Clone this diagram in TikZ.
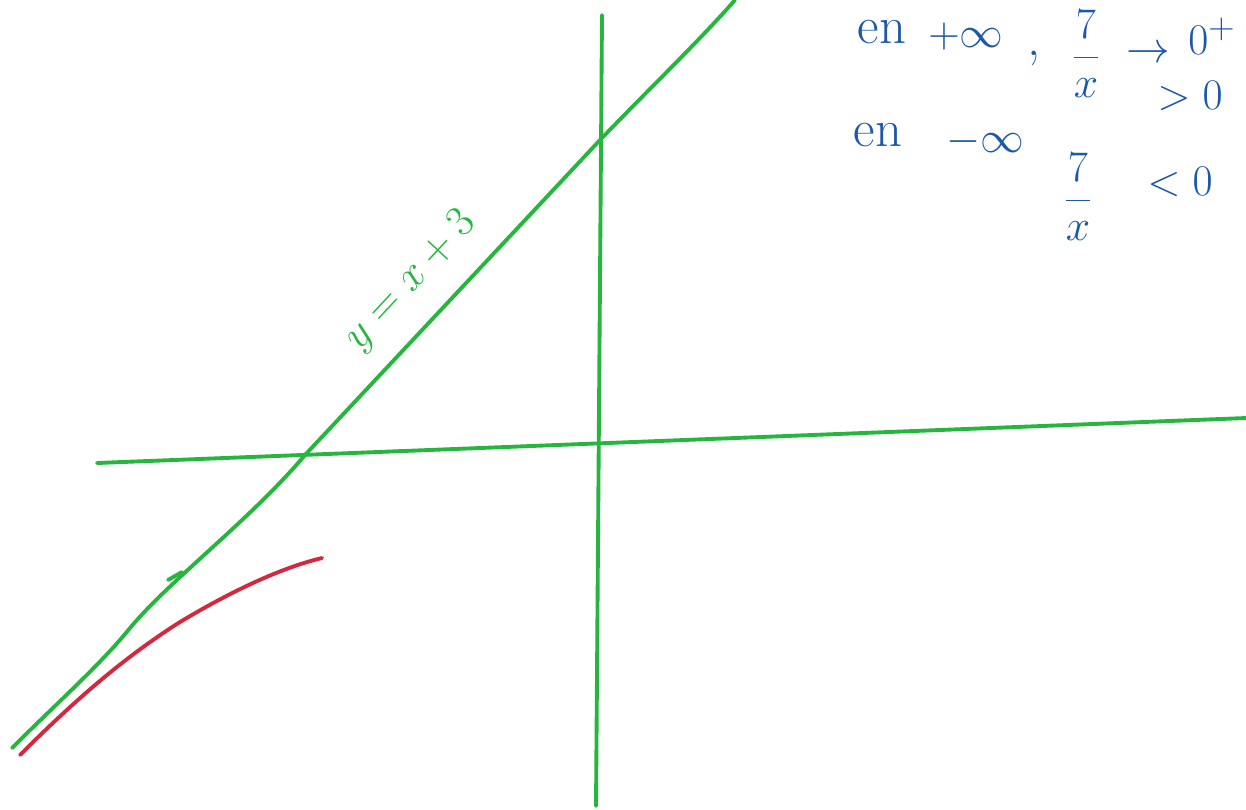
\documentclass[tikz,border=0pt]{standalone}
\begin{document}
\begin{tikzpicture}[x=0.02cm,y=-0.02cm,
  ink/.style={line width=2.2pt,line cap=round,line join=round},
  gr/.style={ink,draw=penGreen},
  rd/.style={ink,draw=penRed},
  bl/.style={text=penBlue,inner sep=0pt,font=\fontsize{30}{34}\selectfont},
  blf/.style={text=penBlue,inner sep=0pt,font=\fontsize{24}{28}\selectfont}]
\definecolor{penGreen}{RGB}{38,182,62}
\definecolor{penRed}{RGB}{212,40,62}
\definecolor{penBlue}{RGB}{28,88,168}
\useasboundingbox (0,0) rectangle (1246,809);
% axes
\draw[gr] (97,463) -- (1246,418);
\draw[gr] (602,15) -- (596,806);
% line y = x + 3
\draw[gr] (12,748) .. controls (60,700) and (100,665) .. (130,628)
  .. controls (170,580) and (250,520) .. (305,455)
  -- (600,140) .. controls (650,88) and (700,40) .. (735,0);
\draw[gr] (168,580) -- (182,572);
\node[text=penGreen,rotate=47,inner sep=0pt,font=\fontsize{24}{28}\selectfont] (lab) at (411,281) {$y = x + 3$};
% red curve
\draw[rd] (20,755) .. controls (70,705) and (120,660) .. (180,622)
  .. controls (230,592) and (280,568) .. (322,558);
% blue notes
\node[bl] (e1) at (882,32) {en};
\node[bl] (p1) at (966,37) {$+\infty$};
\node[bl] (c1) at (1034,58) {,};
\node[blf] (f1) at (1086,54) {$\displaystyle\frac{7}{x}$};
\node[bl] (a1) at (1148,54) {$\rightarrow$};
\node[bl] (z1) at (1212,36) {$0^{+}$};
\node[bl] (g1) at (1190,96) {$>0$};
\node[bl] (e2) at (878,135) {en};
\node[bl] (m2) at (985,142) {$-\infty$};
\node[blf] (f2) at (1078,197) {$\displaystyle\frac{7}{x}$};
\node[bl] (l2) at (1180,182) {$<0$};
\end{tikzpicture}
\end{document}
